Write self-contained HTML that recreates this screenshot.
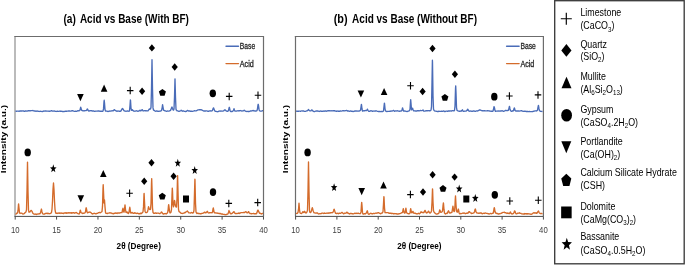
<!DOCTYPE html><html><head><meta charset="utf-8"><style>html,body{margin:0;padding:0;background:#fff;overflow:hidden;}svg{display:block;filter:blur(0.3px);}</style></head><body>
<svg width="685" height="265" viewBox="0 0 685 265">
<rect width="685" height="265" fill="#fff"/>
<path d="M15.0,216.4 V36.5" fill="none" stroke="#a4a4a4" stroke-width="1.5"/>
<path d="M14.3,36.5 H263.5 V216.4" fill="none" stroke="#6c6c6c" stroke-width="1.2"/>
<path d="M15.50,110.92 L16.00,111.13 L16.50,111.25 L17.00,111.10 L17.50,111.10 L18.00,111.07 L18.50,111.15 L19.00,111.29 L19.50,111.05 L20.00,110.82 L20.50,111.04 L21.00,111.02 L21.50,111.17 L22.00,110.91 L22.50,110.92 L23.00,111.06 L23.50,110.94 L24.00,111.19 L24.50,111.37 L25.00,111.08 L25.50,110.85 L26.00,110.92 L26.50,111.18 L27.00,111.10 L27.50,110.96 L28.00,110.95 L28.50,110.74 L29.00,110.68 L29.50,110.73 L30.00,110.80 L30.50,110.73 L31.00,110.67 L31.50,110.61 L32.00,110.69 L32.50,110.67 L33.00,110.51 L33.50,110.80 L34.00,110.89 L34.50,111.00 L35.00,110.86 L35.50,111.16 L36.00,111.33 L36.50,111.09 L37.00,111.01 L37.50,111.14 L38.00,111.24 L38.50,111.43 L39.00,111.32 L39.50,111.44 L40.00,111.46 L40.50,111.29 L41.00,111.29 L41.50,111.45 L42.00,111.55 L42.50,111.46 L43.00,111.43 L43.50,111.13 L44.00,111.00 L44.50,111.17 L45.00,111.11 L45.50,110.95 L46.00,111.00 L46.50,111.12 L47.00,111.20 L47.50,111.12 L48.00,111.09 L48.50,111.09 L49.00,111.23 L49.50,111.22 L50.00,111.14 L50.50,111.13 L51.00,110.89 L51.50,110.70 L52.00,110.88 L52.50,111.17 L53.00,111.20 L53.50,111.13 L54.00,110.96 L54.50,110.99 L55.00,111.25 L55.50,111.35 L56.00,111.32 L56.50,111.46 L57.00,111.25 L57.50,111.23 L58.00,111.43 L58.50,111.40 L59.00,111.32 L59.50,111.16 L60.00,111.17 L60.50,111.39 L61.00,111.08 L61.50,111.23 L62.00,111.36 L62.50,111.50 L63.00,111.54 L63.50,111.61 L64.00,111.51 L64.50,111.46 L65.00,111.35 L65.50,111.08 L66.00,111.27 L66.50,111.27 L67.00,111.08 L67.50,111.09 L68.00,111.08 L68.50,111.01 L69.00,110.95 L69.50,111.00 L70.00,111.08 L70.50,111.14 L71.00,111.11 L71.50,110.87 L72.00,110.78 L72.50,110.68 L73.00,110.81 L73.50,111.05 L74.00,111.20 L74.50,111.33 L75.00,111.44 L75.50,111.25 L76.00,111.39 L76.50,111.41 L77.00,111.14 L77.50,110.88 L78.00,110.67 L78.50,110.87 L79.00,110.77 L79.50,110.57 L80.00,110.12 L80.50,107.86 L80.70,107.25 L81.00,108.10 L81.50,110.22 L82.00,110.52 L82.50,110.54 L83.00,110.77 L83.50,110.81 L84.00,110.78 L84.50,110.83 L85.00,110.64 L85.50,110.66 L86.00,110.69 L86.50,110.47 L87.00,109.45 L87.40,108.96 L87.50,109.08 L88.00,110.22 L88.50,110.83 L89.00,111.08 L89.50,110.85 L90.00,110.66 L90.50,110.57 L91.00,110.78 L91.50,110.68 L92.00,110.86 L92.50,111.00 L93.00,111.04 L93.50,110.91 L94.00,111.18 L94.50,111.31 L95.00,111.28 L95.50,111.10 L96.00,111.17 L96.50,111.10 L97.00,111.14 L97.50,111.04 L98.00,111.11 L98.50,110.88 L99.00,110.82 L99.50,111.10 L100.00,111.28 L100.50,111.13 L101.00,111.29 L101.50,111.13 L102.00,111.30 L102.50,111.31 L103.00,111.01 L103.50,108.90 L104.00,101.49 L104.20,100.24 L104.50,102.98 L105.00,109.59 L105.50,111.06 L106.00,111.19 L106.50,111.02 L107.00,111.23 L107.50,111.44 L108.00,111.48 L108.50,111.40 L109.00,111.28 L109.50,111.16 L110.00,111.00 L110.50,111.10 L111.00,111.06 L111.50,110.91 L112.00,110.74 L112.50,110.88 L113.00,110.77 L113.50,110.55 L114.00,109.76 L114.40,109.59 L114.50,109.82 L115.00,110.25 L115.50,110.68 L116.00,110.77 L116.50,111.09 L117.00,111.23 L117.50,111.12 L118.00,110.96 L118.50,111.06 L119.00,111.22 L119.50,111.39 L120.00,111.21 L120.50,111.23 L121.00,110.87 L121.50,109.94 L122.00,109.07 L122.40,108.45 L122.50,108.54 L123.00,109.03 L123.50,109.90 L124.00,110.79 L124.50,110.88 L125.00,111.09 L125.50,111.14 L126.00,111.30 L126.50,111.18 L127.00,111.07 L127.50,110.95 L128.00,111.14 L128.50,111.13 L129.00,111.25 L129.50,110.90 L130.00,105.58 L130.40,99.88 L130.50,100.17 L131.00,108.18 L131.50,110.26 L132.00,110.33 L132.50,109.84 L132.60,109.98 L133.00,110.32 L133.50,110.99 L134.00,111.25 L134.50,111.17 L135.00,111.19 L135.50,111.03 L136.00,110.83 L136.50,110.76 L137.00,111.02 L137.50,111.06 L138.00,111.26 L138.50,111.19 L139.00,110.95 L139.50,110.60 L139.90,110.38 L140.00,110.11 L140.50,110.76 L141.00,110.79 L141.50,110.30 L142.00,109.88 L142.10,109.63 L142.50,109.97 L143.00,110.87 L143.50,110.95 L144.00,110.78 L144.50,110.67 L145.00,110.61 L145.50,110.80 L146.00,110.63 L146.50,110.89 L147.00,110.80 L147.50,110.93 L148.00,110.81 L148.50,110.11 L149.00,109.35 L149.40,109.08 L149.50,108.87 L150.00,109.20 L150.50,109.18 L151.00,107.22 L151.50,88.89 L152.00,59.78 L152.50,89.01 L153.00,107.88 L153.50,110.01 L154.00,110.21 L154.50,110.66 L155.00,111.01 L155.50,111.27 L156.00,111.05 L156.50,110.91 L157.00,111.00 L157.50,111.25 L158.00,111.23 L158.50,111.29 L159.00,111.32 L159.50,111.14 L160.00,111.13 L160.50,110.99 L161.00,110.83 L161.50,110.48 L162.00,108.80 L162.50,105.01 L162.60,104.74 L163.00,107.20 L163.50,109.91 L163.80,110.39 L164.00,110.38 L164.50,110.59 L165.00,110.80 L165.50,110.85 L166.00,111.09 L166.50,111.28 L167.00,111.13 L167.50,111.03 L168.00,111.05 L168.50,111.08 L169.00,111.10 L169.50,110.93 L170.00,110.65 L170.50,110.36 L171.00,109.40 L171.50,107.96 L171.90,107.09 L172.00,107.02 L172.50,108.46 L173.00,109.65 L173.50,110.15 L174.00,108.93 L174.50,97.32 L175.00,78.86 L175.50,97.18 L176.00,109.21 L176.50,110.37 L177.00,110.86 L177.50,110.79 L178.00,111.00 L178.50,111.27 L179.00,111.39 L179.50,111.24 L180.00,110.98 L180.50,110.81 L181.00,110.50 L181.20,110.26 L181.50,110.65 L182.00,110.91 L182.50,111.25 L183.00,110.99 L183.50,110.92 L184.00,111.15 L184.50,111.29 L185.00,111.44 L185.50,111.52 L186.00,111.48 L186.50,111.29 L187.00,110.75 L187.40,110.56 L187.50,110.36 L188.00,110.70 L188.50,111.03 L189.00,111.01 L189.50,110.83 L190.00,111.12 L190.50,111.26 L191.00,111.25 L191.50,111.24 L192.00,111.38 L192.50,111.29 L193.00,111.19 L193.50,111.09 L194.00,110.96 L194.50,110.73 L195.00,110.85 L195.50,110.82 L196.00,110.85 L196.50,110.58 L197.00,110.47 L197.50,110.23 L198.00,109.97 L198.50,109.79 L199.00,109.90 L199.50,109.78 L200.00,109.73 L200.10,109.84 L200.50,109.76 L201.00,109.67 L201.50,109.92 L202.00,110.16 L202.50,110.46 L203.00,110.60 L203.50,110.83 L204.00,111.03 L204.50,110.94 L205.00,110.98 L205.50,111.00 L206.00,110.88 L206.50,110.88 L207.00,110.95 L207.50,111.18 L208.00,111.37 L208.50,111.19 L209.00,111.24 L209.50,110.98 L210.00,110.78 L210.50,110.83 L211.00,111.05 L211.50,110.84 L212.00,110.86 L212.50,110.40 L213.00,108.80 L213.50,107.85 L214.00,109.03 L214.50,110.38 L215.00,111.09 L215.50,111.31 L216.00,111.33 L216.50,111.47 L217.00,111.59 L217.50,111.72 L218.00,111.63 L218.50,111.36 L219.00,111.18 L219.50,111.02 L220.00,111.07 L220.50,111.20 L221.00,110.95 L221.50,111.06 L222.00,111.17 L222.50,111.06 L223.00,111.05 L223.50,110.78 L224.00,110.62 L224.50,109.88 L225.00,109.85 L225.50,110.31 L226.00,110.85 L226.50,110.98 L227.00,111.26 L227.50,111.44 L228.00,111.10 L228.50,110.55 L229.00,108.25 L229.30,107.29 L229.50,107.78 L230.00,110.24 L230.50,111.35 L231.00,111.61 L231.50,111.45 L232.00,111.53 L232.50,111.38 L233.00,110.99 L233.50,109.95 L234.00,108.62 L234.50,110.00 L235.00,111.16 L235.50,111.07 L236.00,111.14 L236.50,111.09 L237.00,110.90 L237.50,110.84 L238.00,110.76 L238.50,110.95 L239.00,110.73 L239.50,110.65 L240.00,110.71 L240.50,110.54 L241.00,110.72 L241.50,110.84 L242.00,111.06 L242.50,110.91 L243.00,110.81 L243.50,110.74 L244.00,110.35 L244.30,110.34 L244.50,110.30 L245.00,110.75 L245.50,111.10 L246.00,111.28 L246.50,111.48 L247.00,111.42 L247.50,111.35 L248.00,111.48 L248.50,111.53 L249.00,111.48 L249.50,111.34 L250.00,111.17 L250.50,110.95 L251.00,111.10 L251.50,110.83 L252.00,110.81 L252.50,110.55 L253.00,110.52 L253.30,110.54 L253.50,110.73 L254.00,110.68 L254.50,110.92 L255.00,111.10 L255.50,111.04 L256.00,111.03 L256.50,110.91 L257.00,110.65 L257.50,108.61 L258.00,104.88 L258.20,104.28 L258.50,105.51 L259.00,109.19 L259.50,110.71 L260.00,111.01 L260.50,111.05 L261.00,111.14 L261.50,111.07 L262.00,110.93 L262.50,110.72 L263.00,110.68" fill="none" stroke="#4A6CB8" stroke-width="1.35" stroke-linejoin="round"/>
<path d="M15.50,213.75 L16.00,214.05 L16.50,213.48 L17.00,213.01 L17.50,213.09 L18.00,210.73 L18.50,204.45 L18.60,203.85 L19.00,208.02 L19.50,212.76 L20.00,213.45 L20.50,213.17 L21.00,213.15 L21.50,213.09 L22.00,213.33 L22.50,213.76 L23.00,214.05 L23.50,213.91 L24.00,213.69 L24.50,213.33 L25.00,212.78 L25.50,212.24 L26.00,211.96 L26.50,209.71 L27.00,190.80 L27.50,162.08 L28.00,191.31 L28.50,210.28 L29.00,212.20 L29.50,212.09 L30.00,211.88 L30.50,211.03 L31.00,210.34 L31.40,210.61 L31.50,210.82 L32.00,211.21 L32.50,212.55 L33.00,213.37 L33.50,213.74 L34.00,214.07 L34.50,214.17 L35.00,214.27 L35.50,213.95 L36.00,214.27 L36.50,214.50 L37.00,213.96 L37.50,214.06 L38.00,214.10 L38.50,213.90 L39.00,213.80 L39.50,213.65 L40.00,213.81 L40.50,212.82 L41.00,210.64 L41.40,209.06 L41.50,209.41 L42.00,211.91 L42.50,213.47 L43.00,213.83 L43.50,214.15 L44.00,214.20 L44.50,214.01 L45.00,213.62 L45.50,213.40 L46.00,213.55 L46.50,213.19 L47.00,213.57 L47.50,213.29 L48.00,213.63 L48.50,213.35 L49.00,213.70 L49.50,213.73 L50.00,213.53 L50.50,213.33 L51.00,213.15 L51.50,212.36 L52.00,209.24 L52.50,201.26 L53.00,189.36 L53.50,182.93 L54.00,189.81 L54.50,201.29 L55.00,209.27 L55.50,212.30 L56.00,213.36 L56.50,213.19 L57.00,213.48 L57.50,213.07 L58.00,213.27 L58.50,213.09 L59.00,212.90 L59.50,213.33 L60.00,212.98 L60.50,213.08 L61.00,213.45 L61.50,213.20 L62.00,212.98 L62.50,213.40 L63.00,213.32 L63.50,213.53 L64.00,213.07 L64.50,213.01 L65.00,212.79 L65.50,213.06 L66.00,212.75 L66.50,213.28 L67.00,212.87 L67.50,213.18 L68.00,212.79 L68.50,212.69 L69.00,213.11 L69.50,212.85 L70.00,212.67 L70.50,212.99 L71.00,212.96 L71.50,212.63 L72.00,213.22 L72.50,212.94 L73.00,212.61 L73.50,212.62 L74.00,212.88 L74.50,213.20 L75.00,212.88 L75.50,212.83 L76.00,212.52 L76.50,212.64 L77.00,213.02 L77.50,213.30 L78.00,213.66 L78.50,213.81 L79.00,213.98 L79.50,213.47 L80.00,211.28 L80.30,210.12 L80.50,210.60 L81.00,212.51 L81.50,212.93 L82.00,213.04 L82.50,213.45 L83.00,213.09 L83.50,213.22 L84.00,213.13 L84.50,213.15 L85.00,212.70 L85.50,211.92 L86.00,208.26 L86.20,207.77 L86.50,208.98 L87.00,211.80 L87.50,212.84 L88.00,212.69 L88.50,212.44 L89.00,212.22 L89.50,212.15 L90.00,212.03 L90.50,212.42 L91.00,212.62 L91.50,213.21 L92.00,213.63 L92.50,214.02 L93.00,213.65 L93.50,213.54 L94.00,213.28 L94.50,213.38 L95.00,213.49 L95.50,213.73 L96.00,213.84 L96.50,213.52 L97.00,213.41 L97.50,213.42 L98.00,212.95 L98.50,212.60 L99.00,212.64 L99.50,212.40 L100.00,212.75 L100.50,212.57 L101.00,212.25 L101.50,211.98 L102.00,211.43 L102.50,206.43 L103.00,188.43 L103.20,184.69 L103.50,191.52 L104.00,203.07 L104.50,199.97 L105.00,206.86 L105.50,212.40 L106.00,213.44 L106.50,213.45 L107.00,213.47 L107.50,213.54 L108.00,213.11 L108.50,213.09 L109.00,213.17 L109.50,212.93 L110.00,212.65 L110.50,213.07 L111.00,213.01 L111.50,213.10 L112.00,213.53 L112.50,213.60 L113.00,213.36 L113.50,213.80 L114.00,213.60 L114.50,213.12 L115.00,213.34 L115.50,212.98 L116.00,212.89 L116.50,213.29 L117.00,213.46 L117.50,213.00 L118.00,213.03 L118.50,213.01 L119.00,213.06 L119.50,212.85 L120.00,213.02 L120.50,212.69 L121.00,212.59 L121.50,212.55 L122.00,212.57 L122.50,209.83 L122.90,208.43 L123.00,208.32 L123.50,211.19 L124.00,212.26 L124.50,209.39 L125.00,204.90 L125.50,209.62 L126.00,212.41 L126.50,212.48 L127.00,212.00 L127.40,212.18 L127.50,212.42 L128.00,213.35 L128.50,213.54 L129.00,212.33 L129.50,208.77 L129.80,207.28 L130.00,208.28 L130.50,212.35 L131.00,213.19 L131.50,212.74 L132.00,212.43 L132.50,212.77 L133.00,213.27 L133.50,213.27 L134.00,213.41 L134.50,212.84 L134.90,212.69 L135.00,212.84 L135.50,213.20 L136.00,213.41 L136.50,213.49 L137.00,213.26 L137.50,213.21 L138.00,213.39 L138.50,213.75 L139.00,213.74 L139.50,213.93 L140.00,213.43 L140.50,213.25 L141.00,213.68 L141.50,213.24 L142.00,213.09 L142.50,212.58 L143.00,211.75 L143.50,206.88 L144.00,194.01 L144.10,193.35 L144.50,201.55 L145.00,211.15 L145.50,212.31 L146.00,212.61 L146.50,212.68 L147.00,212.35 L147.50,211.82 L148.00,209.68 L148.50,206.79 L148.60,207.00 L149.00,208.22 L149.50,209.35 L150.00,209.49 L150.50,209.32 L151.00,203.64 L151.50,182.92 L151.70,178.60 L152.00,188.10 L152.50,207.85 L153.00,212.40 L153.50,213.22 L154.00,213.46 L154.50,213.20 L155.00,213.21 L155.50,212.83 L156.00,213.02 L156.50,213.43 L157.00,213.12 L157.50,213.16 L158.00,213.17 L158.50,213.10 L159.00,213.32 L159.50,213.67 L160.00,213.63 L160.50,213.08 L161.00,212.68 L161.50,211.94 L162.00,212.51 L162.50,213.26 L163.00,213.80 L163.50,214.10 L164.00,213.70 L164.50,213.71 L165.00,213.52 L165.50,213.60 L166.00,213.92 L166.50,213.85 L167.00,213.20 L167.50,212.86 L168.00,210.95 L168.50,205.67 L168.70,204.67 L169.00,206.85 L169.50,211.35 L170.00,212.93 L170.50,212.85 L171.00,212.20 L171.50,209.31 L172.00,195.39 L172.30,188.06 L172.50,190.89 L173.00,204.70 L173.50,206.90 L174.00,204.28 L174.50,200.37 L174.80,201.53 L175.00,203.59 L175.50,205.81 L176.00,206.88 L176.50,207.03 L177.00,198.68 L177.50,176.67 L177.60,175.57 L178.00,190.95 L178.50,209.09 L179.00,211.58 L179.50,211.79 L180.00,212.21 L180.50,212.80 L181.00,213.07 L181.50,213.36 L182.00,213.34 L182.50,213.48 L183.00,213.29 L183.50,213.07 L184.00,213.11 L184.50,212.69 L185.00,212.34 L185.50,212.52 L186.00,211.87 L186.50,211.54 L187.00,211.17 L187.40,210.85 L187.50,211.03 L188.00,211.72 L188.50,212.71 L189.00,212.86 L189.50,212.86 L190.00,212.93 L190.50,212.99 L191.00,212.85 L191.50,212.47 L192.00,212.63 L192.50,213.10 L193.00,212.85 L193.50,212.60 L194.00,210.09 L194.50,193.38 L194.90,179.09 L195.00,180.13 L195.50,202.95 L196.00,212.01 L196.50,212.95 L197.00,213.51 L197.50,213.14 L198.00,213.50 L198.50,213.30 L199.00,213.45 L199.50,213.70 L200.00,213.77 L200.50,213.59 L201.00,213.84 L201.50,213.37 L202.00,213.47 L202.50,213.31 L203.00,213.18 L203.50,213.06 L204.00,212.62 L204.40,212.36 L204.50,212.09 L205.00,212.28 L205.50,212.81 L206.00,212.74 L206.50,212.17 L207.00,211.89 L207.30,211.31 L207.50,211.76 L208.00,212.41 L208.50,212.91 L209.00,212.98 L209.50,212.69 L210.00,212.79 L210.50,212.59 L211.00,212.67 L211.50,212.58 L212.00,212.91 L212.50,212.21 L213.00,209.01 L213.30,208.02 L213.50,208.89 L214.00,211.80 L214.50,212.90 L215.00,212.94 L215.50,212.77 L216.00,213.06 L216.50,213.02 L217.00,212.96 L217.50,213.31 L218.00,213.09 L218.50,213.42 L219.00,213.54 L219.50,213.42 L220.00,213.70 L220.50,213.50 L221.00,213.81 L221.50,214.11 L222.00,213.97 L222.50,214.02 L223.00,214.30 L223.50,214.33 L224.00,214.37 L224.50,214.50 L225.00,214.67 L225.50,214.64 L226.00,214.81 L226.50,214.33 L227.00,214.24 L227.50,214.19 L228.00,213.76 L228.50,212.58 L229.00,210.39 L229.10,210.71 L229.50,211.62 L230.00,213.11 L230.50,213.76 L231.00,213.43 L231.50,213.83 L232.00,213.40 L232.50,212.94 L233.00,212.72 L233.50,212.01 L234.00,211.63 L234.10,211.94 L234.50,212.60 L235.00,213.32 L235.50,213.62 L236.00,213.37 L236.50,213.68 L237.00,213.53 L237.50,213.31 L238.00,213.45 L238.50,213.12 L239.00,213.01 L239.50,213.47 L240.00,213.09 L240.50,212.82 L241.00,212.67 L241.50,212.59 L242.00,212.67 L242.50,212.59 L243.00,212.60 L243.50,212.52 L244.00,212.44 L244.50,212.65 L245.00,212.26 L245.50,211.66 L245.70,211.93 L246.00,211.79 L246.50,212.20 L247.00,212.94 L247.50,212.85 L248.00,212.62 L248.50,211.59 L248.60,211.65 L249.00,212.42 L249.50,212.98 L250.00,213.51 L250.50,213.61 L251.00,213.47 L251.50,213.90 L252.00,213.70 L252.50,213.61 L253.00,213.67 L253.50,213.44 L254.00,213.72 L254.50,213.73 L255.00,213.72 L255.50,213.64 L256.00,213.88 L256.50,213.69 L257.00,212.56 L257.50,210.73 L257.80,210.10 L258.00,210.18 L258.50,211.11 L259.00,212.14 L259.50,213.28 L260.00,213.08 L260.50,213.56 L261.00,213.69 L261.50,214.01 L262.00,213.51 L262.50,213.31 L263.00,213.60" fill="none" stroke="#D46B2B" stroke-width="1.35" stroke-linejoin="round"/>
<path d="M14.5,216.4 H263.5" stroke="#4a4a4a" stroke-width="1.0"/>
<path d="M15.20,216.4 V219.6 M56.58,216.4 V219.6 M97.96,216.4 V219.6 M139.34,216.4 V219.6 M180.72,216.4 V219.6 M222.10,216.4 V219.6 M263.48,216.4 V219.6 " stroke="#4a4a4a" stroke-width="1.0"/>
<text transform="translate(15.20,233.20) scale(0.8592,1)" font-size="9.00" fill="#404040" text-anchor="middle" font-family="Liberation Sans, sans-serif">10</text>
<text transform="translate(56.58,233.20) scale(0.8592,1)" font-size="9.00" fill="#404040" text-anchor="middle" font-family="Liberation Sans, sans-serif">15</text>
<text transform="translate(97.96,233.20) scale(0.8592,1)" font-size="9.00" fill="#404040" text-anchor="middle" font-family="Liberation Sans, sans-serif">20</text>
<text transform="translate(139.34,233.20) scale(0.8592,1)" font-size="9.00" fill="#404040" text-anchor="middle" font-family="Liberation Sans, sans-serif">25</text>
<text transform="translate(180.72,233.20) scale(0.8592,1)" font-size="9.00" fill="#404040" text-anchor="middle" font-family="Liberation Sans, sans-serif">30</text>
<text transform="translate(222.10,233.20) scale(0.8592,1)" font-size="9.00" fill="#404040" text-anchor="middle" font-family="Liberation Sans, sans-serif">35</text>
<text transform="translate(263.48,233.20) scale(0.8592,1)" font-size="9.00" fill="#404040" text-anchor="middle" font-family="Liberation Sans, sans-serif">40</text>
<text transform="translate(116.60,248.80) scale(0.8867,1)" font-size="9.20" font-weight="bold" fill="#000" text-anchor="start" font-family="Liberation Sans, sans-serif">2θ (Degree)</text>
<text transform="translate(63.40,22.70) scale(0.7407,1)" font-size="13.70" font-weight="bold" fill="#000" text-anchor="start" font-family="Liberation Sans, sans-serif">(a)</text>
<text transform="translate(79.90,22.70) scale(0.7288,1)" font-size="13.70" font-weight="bold" fill="#000" text-anchor="start" font-family="Liberation Sans, sans-serif">Acid vs Base (With BF)</text>
<text transform="translate(5.90,139.00) rotate(-90) scale(1.3476,1)" font-size="7.50" font-weight="bold" fill="#000" text-anchor="middle" font-family="Liberation Sans, sans-serif">Intensity (a.u.)</text>
<path d="M226.0,46.2 H238.5" stroke="#4A6CB8" stroke-width="1.4" stroke-linecap="round"/>
<path d="M226.0,63.6 H238.5" stroke="#D46B2B" stroke-width="1.4" stroke-linecap="round"/>
<text transform="translate(239.80,49.40) scale(0.7857,1)" font-size="8.60" fill="#262626" stroke="#262626" stroke-width="0.30" text-anchor="start" font-family="Liberation Sans, sans-serif">Base</text>
<text transform="translate(239.80,66.70) scale(0.8368,1)" font-size="8.60" fill="#262626" stroke="#262626" stroke-width="0.30" text-anchor="start" font-family="Liberation Sans, sans-serif">Acid</text>
<path d="M295.5,216.4 V36.5" fill="none" stroke="#6c6c6c" stroke-width="1.2"/>
<path d="M294.8,36.5 H543.4 V216.4" fill="none" stroke="#6c6c6c" stroke-width="1.2"/>
<path d="M296.00,111.08 L296.50,111.11 L297.00,111.32 L297.50,111.26 L298.00,111.23 L298.50,111.25 L299.00,111.06 L299.50,111.07 L300.00,111.14 L300.50,111.28 L301.00,111.04 L301.50,110.95 L302.00,110.78 L302.50,111.00 L303.00,111.11 L303.50,110.88 L304.00,111.16 L304.50,111.38 L305.00,111.40 L305.50,111.39 L306.00,111.16 L306.50,110.90 L307.00,110.94 L307.50,110.64 L308.00,110.05 L308.40,109.64 L308.50,109.52 L309.00,110.21 L309.50,110.59 L310.00,110.88 L310.50,110.90 L311.00,110.76 L311.50,110.13 L311.90,109.86 L312.00,109.85 L312.50,110.36 L313.00,111.11 L313.50,111.45 L314.00,111.56 L314.50,111.57 L315.00,111.39 L315.50,111.20 L316.00,111.07 L316.50,110.86 L317.00,111.04 L317.50,111.00 L318.00,111.20 L318.50,111.12 L319.00,111.34 L319.50,111.47 L320.00,111.14 L320.50,110.99 L321.00,111.22 L321.50,111.18 L322.00,111.40 L322.50,111.29 L323.00,111.04 L323.50,111.12 L324.00,111.25 L324.50,111.11 L325.00,110.90 L325.50,110.85 L326.00,111.14 L326.50,111.26 L327.00,111.03 L327.50,110.92 L328.00,110.76 L328.50,110.60 L329.00,110.85 L329.50,110.74 L330.00,110.84 L330.50,110.87 L331.00,110.76 L331.50,110.94 L332.00,110.79 L332.50,110.92 L333.00,110.77 L333.50,110.79 L334.00,110.71 L334.50,110.67 L335.00,110.99 L335.50,111.17 L336.00,111.05 L336.50,111.26 L337.00,111.08 L337.50,111.03 L338.00,111.22 L338.50,111.27 L339.00,111.03 L339.50,111.29 L340.00,111.11 L340.50,110.98 L341.00,111.14 L341.50,111.05 L342.00,110.95 L342.50,110.77 L343.00,110.63 L343.50,110.76 L344.00,110.69 L344.50,110.81 L345.00,110.74 L345.50,110.61 L346.00,110.61 L346.50,110.42 L347.00,110.62 L347.50,111.08 L348.00,111.04 L348.50,110.92 L349.00,111.16 L349.50,111.31 L350.00,111.14 L350.50,110.98 L351.00,111.12 L351.50,111.34 L352.00,111.14 L352.50,111.35 L353.00,111.49 L353.50,111.46 L354.00,111.35 L354.50,111.10 L355.00,110.87 L355.50,111.14 L356.00,111.00 L356.50,111.12 L357.00,110.99 L357.50,111.16 L358.00,111.19 L358.50,111.05 L359.00,110.88 L359.50,111.00 L360.00,110.73 L360.50,110.17 L361.00,107.02 L361.40,104.39 L361.50,104.69 L362.00,108.98 L362.50,110.97 L363.00,110.97 L363.50,110.77 L364.00,110.73 L364.50,110.77 L365.00,110.62 L365.50,110.54 L366.00,110.57 L366.50,110.64 L367.00,110.06 L367.50,109.20 L367.60,109.44 L368.00,110.26 L368.50,111.06 L369.00,111.28 L369.50,111.30 L370.00,111.08 L370.50,110.85 L371.00,110.66 L371.50,110.95 L372.00,111.08 L372.50,111.31 L373.00,111.02 L373.50,111.10 L374.00,111.07 L374.50,111.16 L375.00,110.98 L375.50,111.15 L376.00,110.81 L376.40,110.82 L376.50,110.93 L377.00,111.15 L377.50,111.29 L378.00,111.39 L378.50,111.50 L379.00,111.64 L379.50,111.46 L380.00,111.47 L380.50,111.59 L381.00,111.67 L381.50,111.50 L382.00,111.54 L382.50,111.59 L383.00,111.43 L383.50,110.81 L384.00,106.64 L384.40,103.09 L384.50,103.39 L385.00,108.58 L385.50,110.84 L386.00,111.29 L386.50,111.46 L387.00,111.51 L387.50,111.38 L388.00,111.44 L388.50,111.41 L389.00,111.32 L389.50,111.44 L390.00,111.16 L390.50,111.27 L391.00,111.00 L391.50,111.06 L392.00,111.04 L392.50,110.82 L393.00,110.64 L393.50,110.38 L394.00,110.71 L394.50,111.22 L395.00,111.14 L395.50,110.89 L396.00,110.83 L396.50,110.97 L397.00,110.85 L397.50,110.73 L398.00,111.00 L398.50,111.10 L399.00,111.06 L399.50,111.26 L400.00,111.13 L400.50,111.19 L401.00,110.99 L401.50,110.87 L402.00,110.12 L402.50,108.01 L402.60,108.02 L403.00,109.36 L403.50,111.03 L404.00,111.13 L404.50,110.96 L405.00,110.99 L405.50,111.17 L406.00,111.33 L406.50,111.38 L407.00,111.53 L407.50,111.32 L408.00,111.08 L408.50,111.02 L409.00,110.86 L409.50,110.61 L410.00,109.22 L410.50,101.58 L410.70,99.71 L411.00,103.32 L411.50,109.84 L412.00,109.62 L412.50,108.09 L413.00,109.42 L413.50,110.49 L414.00,110.95 L414.50,110.77 L415.00,110.94 L415.50,111.01 L416.00,110.93 L416.50,111.11 L417.00,110.86 L417.50,110.72 L418.00,110.77 L418.50,110.59 L419.00,110.85 L419.50,110.76 L420.00,110.64 L420.50,110.50 L421.00,110.67 L421.50,110.69 L422.00,110.67 L422.50,110.27 L423.00,109.98 L423.50,110.65 L424.00,111.20 L424.50,111.13 L425.00,111.12 L425.50,110.94 L426.00,110.71 L426.50,110.76 L427.00,110.91 L427.50,110.76 L428.00,110.67 L428.50,110.63 L429.00,110.75 L429.50,110.73 L430.00,110.71 L430.50,110.65 L431.00,110.12 L431.50,106.68 L432.00,82.20 L432.40,60.26 L432.50,62.31 L433.00,95.88 L433.50,109.06 L434.00,110.38 L434.50,110.74 L435.00,111.08 L435.50,111.05 L436.00,111.10 L436.50,111.29 L437.00,111.40 L437.50,111.56 L438.00,111.45 L438.50,111.45 L439.00,111.22 L439.50,111.31 L440.00,111.42 L440.50,111.42 L441.00,111.45 L441.50,111.23 L442.00,111.36 L442.50,111.35 L443.00,111.08 L443.30,110.84 L443.50,110.94 L444.00,111.14 L444.50,111.51 L445.00,111.64 L445.50,111.45 L446.00,111.17 L446.50,111.12 L447.00,111.14 L447.50,111.26 L448.00,111.21 L448.50,110.95 L449.00,111.12 L449.50,110.89 L450.00,111.07 L450.50,110.90 L451.00,110.84 L451.50,111.01 L452.00,110.82 L452.50,110.66 L453.00,110.69 L453.50,110.79 L454.00,110.85 L454.50,110.48 L455.00,106.11 L455.50,89.16 L455.70,85.85 L456.00,92.58 L456.50,107.54 L457.00,110.48 L457.50,110.68 L458.00,110.93 L458.50,111.05 L459.00,111.08 L459.50,111.25 L460.00,111.25 L460.50,111.11 L461.00,111.02 L461.50,111.05 L462.00,110.48 L462.40,109.73 L462.50,109.92 L463.00,110.97 L463.50,111.36 L464.00,111.38 L464.50,111.17 L465.00,111.17 L465.50,111.14 L466.00,111.16 L466.50,110.77 L467.00,110.42 L467.50,109.37 L467.70,109.14 L468.00,109.61 L468.50,110.66 L469.00,111.09 L469.50,111.25 L470.00,111.01 L470.50,111.05 L471.00,111.01 L471.50,111.26 L472.00,111.43 L472.50,111.25 L473.00,111.20 L473.50,110.99 L474.00,110.97 L474.50,111.15 L475.00,111.33 L475.50,111.26 L476.00,111.12 L476.50,110.93 L477.00,110.95 L477.50,111.07 L478.00,110.69 L478.50,110.64 L479.00,110.18 L479.50,109.94 L479.70,109.84 L480.00,110.03 L480.50,110.12 L481.00,110.30 L481.50,110.60 L482.00,110.58 L482.50,110.85 L483.00,110.74 L483.50,110.83 L484.00,110.76 L484.50,110.68 L485.00,110.77 L485.50,110.81 L486.00,110.80 L486.50,110.81 L487.00,110.88 L487.50,110.75 L488.00,110.67 L488.50,110.82 L489.00,110.94 L489.50,110.98 L490.00,111.17 L490.50,111.20 L491.00,111.35 L491.50,111.15 L492.00,111.23 L492.50,111.30 L493.00,111.12 L493.50,109.29 L494.00,106.64 L494.10,106.71 L494.50,107.98 L495.00,110.59 L495.50,111.39 L496.00,111.21 L496.50,111.07 L497.00,111.19 L497.50,111.05 L498.00,110.86 L498.50,111.07 L499.00,111.04 L499.50,111.19 L500.00,110.98 L500.50,110.96 L501.00,111.07 L501.50,110.84 L502.00,110.73 L502.50,110.89 L503.00,111.13 L503.50,111.35 L504.00,111.09 L504.50,111.00 L505.00,110.79 L505.50,110.34 L505.60,110.39 L506.00,110.43 L506.50,110.65 L507.00,110.64 L507.50,110.49 L508.00,110.57 L508.50,110.21 L509.00,108.15 L509.40,106.45 L509.50,106.49 L510.00,108.97 L510.50,110.59 L511.00,111.07 L511.50,111.29 L512.00,111.05 L512.50,110.82 L513.00,111.03 L513.50,110.50 L514.00,108.78 L514.30,107.94 L514.50,108.27 L515.00,110.24 L515.50,110.93 L516.00,111.07 L516.50,110.85 L517.00,111.00 L517.50,111.19 L518.00,111.01 L518.50,111.01 L519.00,111.15 L519.50,111.09 L520.00,110.94 L520.50,110.80 L521.00,110.87 L521.50,110.67 L522.00,110.95 L522.50,111.13 L523.00,111.23 L523.50,111.38 L524.00,111.39 L524.50,111.28 L525.00,111.29 L525.50,111.26 L526.00,111.47 L526.50,111.54 L527.00,111.33 L527.50,111.49 L528.00,111.53 L528.50,111.58 L529.00,111.64 L529.50,111.49 L530.00,111.61 L530.50,111.69 L531.00,111.67 L531.50,111.69 L532.00,111.70 L532.50,111.53 L533.00,111.55 L533.50,111.24 L534.00,111.13 L534.50,111.10 L535.00,110.84 L535.50,110.80 L536.00,110.91 L536.50,110.96 L537.00,110.72 L537.50,110.14 L538.00,107.28 L538.40,105.34 L538.50,105.55 L539.00,108.66 L539.50,110.69 L540.00,111.00 L540.50,111.30 L541.00,111.34 L541.50,111.40 L542.00,111.47 L542.50,111.64" fill="none" stroke="#4A6CB8" stroke-width="1.35" stroke-linejoin="round"/>
<path d="M296.00,213.33 L296.50,213.46 L297.00,213.55 L297.50,213.12 L298.00,212.47 L298.50,209.45 L299.00,203.06 L299.50,209.76 L300.00,212.97 L300.50,213.30 L301.00,213.38 L301.50,213.50 L302.00,213.02 L302.50,212.39 L302.90,211.67 L303.00,212.15 L303.50,212.37 L304.00,212.57 L304.50,211.26 L304.60,211.45 L305.00,211.90 L305.50,212.64 L306.00,213.08 L306.50,212.48 L307.00,211.80 L307.50,210.13 L308.00,191.33 L308.50,161.92 L309.00,191.51 L309.50,210.73 L310.00,212.45 L310.50,212.66 L311.00,212.10 L311.50,210.62 L312.00,208.55 L312.30,207.68 L312.50,208.28 L313.00,210.17 L313.50,211.76 L314.00,212.78 L314.50,212.89 L315.00,212.93 L315.50,213.11 L316.00,213.14 L316.50,213.09 L317.00,212.72 L317.50,213.06 L318.00,213.54 L318.50,213.94 L319.00,213.98 L319.50,213.73 L320.00,213.54 L320.50,213.68 L321.00,213.77 L321.50,213.35 L322.00,213.12 L322.50,213.05 L323.00,213.13 L323.50,213.46 L324.00,213.44 L324.50,213.01 L325.00,213.37 L325.50,213.31 L326.00,213.34 L326.50,213.10 L327.00,213.09 L327.50,213.05 L328.00,213.36 L328.50,213.00 L329.00,213.12 L329.50,212.88 L330.00,213.15 L330.50,212.78 L331.00,212.69 L331.50,212.67 L332.00,212.90 L332.50,212.50 L333.00,212.22 L333.50,210.88 L334.00,209.30 L334.20,209.23 L334.50,210.22 L335.00,211.85 L335.50,213.30 L336.00,213.23 L336.50,213.68 L337.00,213.51 L337.50,213.21 L338.00,213.47 L338.50,213.82 L339.00,213.29 L339.50,213.10 L340.00,213.41 L340.50,213.26 L341.00,213.05 L341.50,212.68 L342.00,212.40 L342.50,212.71 L343.00,213.28 L343.50,213.74 L344.00,213.67 L344.50,213.18 L345.00,213.03 L345.50,213.25 L346.00,213.17 L346.50,212.63 L346.80,212.15 L347.00,212.24 L347.50,212.78 L348.00,213.33 L348.50,213.24 L349.00,213.69 L349.50,213.99 L350.00,213.56 L350.50,213.34 L351.00,213.69 L351.50,213.43 L352.00,213.82 L352.50,213.75 L353.00,213.85 L353.50,213.94 L354.00,213.57 L354.50,213.34 L355.00,213.13 L355.50,213.34 L356.00,213.52 L356.50,213.16 L357.00,213.55 L357.50,213.43 L358.00,213.18 L358.50,213.15 L359.00,213.60 L359.50,213.57 L360.00,213.57 L360.50,213.68 L361.00,211.89 L361.50,204.26 L361.70,202.41 L362.00,205.54 L362.50,212.66 L363.00,214.07 L363.50,214.09 L364.00,213.83 L364.50,213.63 L365.00,213.78 L365.50,213.74 L366.00,213.17 L366.50,212.86 L367.00,211.31 L367.30,210.73 L367.50,211.33 L368.00,213.55 L368.50,214.12 L369.00,214.30 L369.50,214.02 L370.00,213.53 L370.50,213.37 L371.00,213.21 L371.50,213.64 L372.00,213.76 L372.50,213.72 L373.00,213.76 L373.50,213.35 L374.00,213.39 L374.50,213.57 L375.00,213.44 L375.50,213.20 L376.00,213.15 L376.50,213.04 L377.00,213.27 L377.50,212.97 L378.00,212.68 L378.50,212.65 L379.00,212.96 L379.50,213.27 L380.00,213.42 L380.50,213.79 L381.00,213.55 L381.50,213.05 L382.00,213.02 L382.50,212.86 L383.00,211.45 L383.50,203.71 L383.90,196.59 L384.00,197.01 L384.50,207.81 L385.00,212.68 L385.50,212.68 L386.00,212.75 L386.50,212.70 L387.00,212.58 L387.50,212.68 L388.00,212.58 L388.50,213.12 L389.00,213.17 L389.50,213.39 L390.00,213.09 L390.50,213.12 L391.00,213.27 L391.50,213.60 L392.00,213.33 L392.50,213.31 L393.00,213.64 L393.50,213.89 L394.00,213.54 L394.50,213.55 L395.00,213.75 L395.50,213.58 L396.00,213.70 L396.50,213.78 L397.00,214.13 L397.50,214.03 L398.00,214.06 L398.50,213.79 L399.00,213.92 L399.50,213.65 L400.00,213.59 L400.50,213.42 L401.00,213.22 L401.50,212.91 L402.00,212.71 L402.50,212.59 L403.00,210.21 L403.30,208.63 L403.50,209.72 L404.00,212.25 L404.50,213.19 L405.00,213.09 L405.50,210.53 L405.90,208.10 L406.00,208.65 L406.50,212.41 L407.00,213.13 L407.50,213.36 L408.00,213.68 L408.50,213.71 L409.00,213.88 L409.50,213.64 L410.00,213.08 L410.50,209.51 L410.70,208.60 L411.00,210.07 L411.50,212.73 L412.00,212.90 L412.50,212.25 L412.80,211.37 L413.00,211.45 L413.50,212.53 L414.00,213.29 L414.50,213.34 L415.00,212.95 L415.50,213.34 L416.00,213.68 L416.50,213.91 L417.00,213.67 L417.50,213.82 L418.00,213.55 L418.50,213.18 L419.00,213.54 L419.50,213.76 L420.00,213.21 L420.50,212.83 L421.00,211.71 L421.50,212.16 L422.00,212.46 L422.50,212.48 L423.00,212.36 L423.50,212.71 L424.00,212.37 L424.50,211.31 L425.00,210.39 L425.50,211.18 L426.00,212.58 L426.50,213.01 L427.00,212.69 L427.50,212.70 L428.00,211.91 L428.50,211.11 L429.00,211.88 L429.50,212.79 L430.00,213.12 L430.50,212.77 L431.00,212.34 L431.50,210.88 L432.00,202.18 L432.50,188.84 L432.60,189.56 L433.00,201.82 L433.50,210.73 L434.00,211.86 L434.50,212.79 L435.00,213.08 L435.50,213.57 L436.00,213.77 L436.50,214.12 L437.00,214.14 L437.50,213.90 L438.00,213.68 L438.50,213.59 L439.00,212.88 L439.50,210.79 L439.70,209.88 L440.00,210.28 L440.50,212.10 L441.00,212.39 L441.50,212.17 L442.00,211.82 L442.50,210.85 L443.00,205.95 L443.40,202.90 L443.50,203.47 L444.00,209.68 L444.50,213.11 L445.00,213.67 L445.50,214.04 L446.00,213.48 L446.50,213.19 L447.00,213.54 L447.50,213.10 L448.00,211.58 L448.50,210.78 L449.00,211.71 L449.50,212.93 L450.00,213.08 L450.50,212.88 L451.00,212.52 L451.50,212.59 L452.00,212.21 L452.50,208.90 L452.90,206.25 L453.00,206.65 L453.50,210.15 L454.00,211.59 L454.50,211.23 L455.00,205.27 L455.20,200.65 L455.50,195.86 L456.00,204.75 L456.50,210.88 L457.00,212.08 L457.50,212.13 L458.00,210.15 L458.30,209.06 L458.50,209.44 L459.00,212.45 L459.50,213.84 L460.00,213.83 L460.50,213.48 L461.00,213.58 L461.50,213.57 L462.00,213.41 L462.50,213.16 L463.00,213.10 L463.50,213.25 L464.00,212.94 L464.50,213.06 L465.00,213.53 L465.50,213.71 L466.00,213.42 L466.50,213.33 L467.00,212.97 L467.50,213.23 L468.00,213.21 L468.50,212.39 L469.00,211.66 L469.30,211.56 L469.50,211.74 L470.00,212.41 L470.50,212.86 L471.00,212.98 L471.50,213.53 L472.00,213.34 L472.50,213.34 L473.00,213.29 L473.50,212.98 L474.00,212.78 L474.50,211.68 L475.00,209.64 L475.30,209.00 L475.50,209.29 L476.00,211.79 L476.50,212.79 L477.00,212.93 L477.50,213.19 L478.00,213.15 L478.50,213.21 L479.00,213.38 L479.50,213.00 L480.00,213.23 L480.50,212.91 L481.00,212.78 L481.50,213.18 L482.00,213.66 L482.50,213.76 L483.00,213.39 L483.50,213.34 L484.00,213.15 L484.50,213.51 L485.00,213.24 L485.50,213.00 L486.00,213.20 L486.50,213.36 L487.00,213.45 L487.50,213.41 L488.00,213.82 L488.50,213.69 L489.00,214.02 L489.50,213.79 L490.00,213.68 L490.50,213.48 L491.00,213.65 L491.50,213.80 L492.00,213.46 L492.50,213.41 L493.00,213.41 L493.50,212.10 L494.00,208.75 L494.30,207.58 L494.50,208.27 L495.00,211.58 L495.50,213.04 L496.00,212.87 L496.50,213.36 L497.00,213.63 L497.50,213.49 L498.00,213.89 L498.50,214.16 L499.00,213.69 L499.50,213.93 L500.00,213.75 L500.50,213.52 L501.00,213.27 L501.50,213.22 L502.00,212.85 L502.50,212.55 L503.00,212.38 L503.50,212.41 L504.00,212.29 L504.50,212.17 L505.00,212.71 L505.50,212.74 L506.00,212.86 L506.50,213.05 L507.00,213.51 L507.50,213.16 L508.00,212.95 L508.50,213.35 L509.00,213.64 L509.50,213.58 L510.00,212.63 L510.30,212.13 L510.50,211.91 L511.00,213.11 L511.50,213.76 L512.00,213.80 L512.50,213.97 L513.00,213.59 L513.50,213.32 L514.00,212.62 L514.50,210.87 L514.60,210.89 L515.00,211.31 L515.50,212.98 L516.00,213.73 L516.50,213.85 L517.00,213.71 L517.50,213.22 L518.00,213.25 L518.50,213.15 L519.00,213.11 L519.50,212.79 L520.00,213.29 L520.50,213.33 L521.00,213.40 L521.50,213.71 L522.00,214.00 L522.50,213.92 L523.00,213.86 L523.50,214.08 L524.00,213.83 L524.50,214.10 L525.00,213.53 L525.50,213.77 L526.00,213.72 L526.50,213.77 L527.00,214.13 L527.50,213.73 L528.00,213.58 L528.50,213.81 L529.00,213.95 L529.50,213.86 L530.00,214.02 L530.50,214.05 L531.00,214.25 L531.50,214.21 L532.00,213.93 L532.50,213.63 L533.00,213.20 L533.50,212.90 L534.00,212.58 L534.50,213.17 L535.00,212.88 L535.50,213.07 L536.00,212.79 L536.50,213.29 L537.00,213.21 L537.50,212.40 L538.00,211.59 L538.50,211.07 L539.00,212.25 L539.50,213.03 L540.00,213.39 L540.50,213.62 L541.00,213.39 L541.50,213.46 L542.00,213.63 L542.50,213.81" fill="none" stroke="#D46B2B" stroke-width="1.35" stroke-linejoin="round"/>
<path d="M295.0,216.4 H543.4" stroke="#4a4a4a" stroke-width="1.0"/>
<path d="M295.60,216.4 V219.6 M336.90,216.4 V219.6 M378.20,216.4 V219.6 M419.50,216.4 V219.6 M460.80,216.4 V219.6 M502.10,216.4 V219.6 M543.40,216.4 V219.6 " stroke="#4a4a4a" stroke-width="1.0"/>
<text transform="translate(295.60,233.20) scale(0.8592,1)" font-size="9.00" fill="#404040" text-anchor="middle" font-family="Liberation Sans, sans-serif">10</text>
<text transform="translate(336.90,233.20) scale(0.8592,1)" font-size="9.00" fill="#404040" text-anchor="middle" font-family="Liberation Sans, sans-serif">15</text>
<text transform="translate(378.20,233.20) scale(0.8592,1)" font-size="9.00" fill="#404040" text-anchor="middle" font-family="Liberation Sans, sans-serif">20</text>
<text transform="translate(419.50,233.20) scale(0.8592,1)" font-size="9.00" fill="#404040" text-anchor="middle" font-family="Liberation Sans, sans-serif">25</text>
<text transform="translate(460.80,233.20) scale(0.8592,1)" font-size="9.00" fill="#404040" text-anchor="middle" font-family="Liberation Sans, sans-serif">30</text>
<text transform="translate(502.10,233.20) scale(0.8592,1)" font-size="9.00" fill="#404040" text-anchor="middle" font-family="Liberation Sans, sans-serif">35</text>
<text transform="translate(543.40,233.20) scale(0.8592,1)" font-size="9.00" fill="#404040" text-anchor="middle" font-family="Liberation Sans, sans-serif">40</text>
<text transform="translate(397.20,248.80) scale(0.8867,1)" font-size="9.20" font-weight="bold" fill="#000" text-anchor="start" font-family="Liberation Sans, sans-serif">2θ (Degree)</text>
<text transform="translate(333.70,22.70) scale(0.7947,1)" font-size="13.70" font-weight="bold" fill="#000" text-anchor="start" font-family="Liberation Sans, sans-serif">(b)</text>
<text transform="translate(352.10,22.70) scale(0.7305,1)" font-size="13.70" font-weight="bold" fill="#000" text-anchor="start" font-family="Liberation Sans, sans-serif">Acid vs Base (Without BF)</text>
<text transform="translate(287.50,139.00) rotate(-90) scale(1.3476,1)" font-size="7.50" font-weight="bold" fill="#000" text-anchor="middle" font-family="Liberation Sans, sans-serif">Intensity (a.u.)</text>
<path d="M506.6,46.2 H519.1" stroke="#4A6CB8" stroke-width="1.4" stroke-linecap="round"/>
<path d="M506.6,63.6 H519.1" stroke="#D46B2B" stroke-width="1.4" stroke-linecap="round"/>
<text transform="translate(520.40,49.40) scale(0.7857,1)" font-size="8.60" fill="#262626" stroke="#262626" stroke-width="0.30" text-anchor="start" font-family="Liberation Sans, sans-serif">Base</text>
<text transform="translate(520.40,66.70) scale(0.8368,1)" font-size="8.60" fill="#262626" stroke="#262626" stroke-width="0.30" text-anchor="start" font-family="Liberation Sans, sans-serif">Acid</text>
<g fill="#000">
<path d="M77.10,94.10 L83.70,94.10 L80.40,101.30 Z"/>
<path d="M104.10,84.60 L107.40,91.80 L100.80,91.80 Z"/>
<path d="M126.95,90.60 H133.45 M130.20,86.85 V94.35" fill="none" stroke="#000" stroke-width="1.10"/>
<path d="M142.10,87.60 L145.20,91.30 L142.10,95.00 L139.00,91.30 Z"/>
<path d="M151.90,44.20 L155.00,47.90 L151.90,51.60 L148.80,47.90 Z"/>
<polygon points="162.40,89.00 165.92,91.56 164.57,95.69 160.23,95.69 158.88,91.56"/>
<path d="M174.70,63.30 L177.80,67.00 L174.70,70.70 L171.60,67.00 Z"/>
<ellipse cx="212.80" cy="93.30" rx="3.20" ry="3.90"/>
<path d="M225.95,96.40 H232.45 M229.20,92.65 V100.15" fill="none" stroke="#000" stroke-width="1.10"/>
<path d="M254.75,95.30 H261.25 M258.00,91.55 V99.05" fill="none" stroke="#000" stroke-width="1.10"/>
<ellipse cx="27.70" cy="152.40" rx="3.20" ry="3.90"/>
<polygon points="53.30,164.35 54.15,167.25 56.58,167.39 54.68,169.32 55.33,172.31 53.30,170.60 51.27,172.31 51.92,169.32 50.02,167.39 52.45,167.25"/>
<path d="M77.50,195.20 L84.10,195.20 L80.80,202.40 Z"/>
<path d="M103.30,169.90 L106.60,177.10 L100.00,177.10 Z"/>
<path d="M126.35,193.20 H132.85 M129.60,189.45 V196.95" fill="none" stroke="#000" stroke-width="1.10"/>
<path d="M144.20,177.50 L147.30,181.20 L144.20,184.90 L141.10,181.20 Z"/>
<path d="M151.50,159.10 L154.60,162.80 L151.50,166.50 L148.40,162.80 Z"/>
<polygon points="162.30,192.80 165.82,195.36 164.47,199.49 160.13,199.49 158.78,195.36"/>
<path d="M173.60,172.60 L176.70,176.30 L173.60,180.00 L170.50,176.30 Z"/>
<polygon points="177.80,158.75 178.65,161.65 181.08,161.79 179.18,163.72 179.83,166.71 177.80,165.00 175.77,166.71 176.42,163.72 174.52,161.79 176.95,161.65"/>
<rect x="183.00" y="195.50" width="6.00" height="7.00"/>
<polygon points="194.70,166.05 195.55,168.95 197.98,169.09 196.08,171.02 196.73,174.01 194.70,172.30 192.67,174.01 193.32,171.02 191.42,169.09 193.85,168.95"/>
<ellipse cx="213.00" cy="192.10" rx="3.20" ry="3.90"/>
<path d="M225.55,203.40 H232.05 M228.80,199.65 V207.15" fill="none" stroke="#000" stroke-width="1.10"/>
<path d="M254.45,202.60 H260.95 M257.70,198.85 V206.35" fill="none" stroke="#000" stroke-width="1.10"/>
<path d="M357.60,90.40 L364.20,90.40 L360.90,97.60 Z"/>
<path d="M384.10,87.90 L387.40,95.10 L380.80,95.10 Z"/>
<path d="M407.25,85.80 H413.75 M410.50,82.05 V89.55" fill="none" stroke="#000" stroke-width="1.10"/>
<path d="M422.60,87.80 L425.70,91.50 L422.60,95.20 L419.50,91.50 Z"/>
<path d="M432.50,44.80 L435.60,48.50 L432.50,52.20 L429.40,48.50 Z"/>
<polygon points="444.90,94.00 448.42,96.56 447.07,100.69 442.73,100.69 441.38,96.56"/>
<path d="M454.90,70.60 L458.00,74.30 L454.90,78.00 L451.80,74.30 Z"/>
<ellipse cx="494.30" cy="96.70" rx="3.20" ry="3.90"/>
<path d="M506.15,96.00 H512.65 M509.40,92.25 V99.75" fill="none" stroke="#000" stroke-width="1.10"/>
<path d="M534.75,94.90 H541.25 M538.00,91.15 V98.65" fill="none" stroke="#000" stroke-width="1.10"/>
<ellipse cx="307.60" cy="152.40" rx="3.20" ry="3.90"/>
<polygon points="334.10,183.15 334.95,186.05 337.38,186.19 335.48,188.12 336.13,191.11 334.10,189.40 332.07,191.11 332.72,188.12 330.82,186.19 333.25,186.05"/>
<path d="M358.40,188.10 L365.00,188.10 L361.70,195.30 Z"/>
<path d="M383.50,181.40 L386.80,188.60 L380.20,188.60 Z"/>
<path d="M407.15,194.60 H413.65 M410.40,190.85 V198.35" fill="none" stroke="#000" stroke-width="1.10"/>
<path d="M423.00,188.30 L426.10,192.00 L423.00,195.70 L419.90,192.00 Z"/>
<path d="M432.60,171.00 L435.70,174.70 L432.60,178.40 L429.50,174.70 Z"/>
<polygon points="443.00,185.10 446.52,187.66 445.17,191.79 440.83,191.79 439.48,187.66"/>
<path d="M454.60,173.40 L457.70,177.10 L454.60,180.80 L451.50,177.10 Z"/>
<polygon points="459.20,184.55 460.05,187.45 462.48,187.59 460.58,189.52 461.23,192.51 459.20,190.80 457.17,192.51 457.82,189.52 455.92,187.59 458.35,187.45"/>
<rect x="463.30" y="195.50" width="6.00" height="7.00"/>
<polygon points="475.30,193.95 476.15,196.85 478.58,196.99 476.68,198.92 477.33,201.91 475.30,200.20 473.27,201.91 473.92,198.92 472.02,196.99 474.45,196.85"/>
<ellipse cx="494.80" cy="194.80" rx="3.20" ry="3.90"/>
<path d="M506.55,201.00 H513.05 M509.80,197.25 V204.75" fill="none" stroke="#000" stroke-width="1.10"/>
<path d="M535.05,200.20 H541.55 M538.30,196.45 V203.95" fill="none" stroke="#000" stroke-width="1.10"/>
</g>
<rect x="554.7" y="0.7" width="129.5" height="263.1" fill="none" stroke="#3c3c3c" stroke-width="1.35"/>
<g fill="#000">
<path d="M560.80,18.70 H571.80 M566.30,12.70 V24.70" fill="none" stroke="#000" stroke-width="1.15"/>
<text transform="translate(580.4,16.4) scale(0.887,1)" font-size="10" fill="#000" font-family="Liberation Sans, sans-serif">Limestone</text>
<text transform="translate(580.4,29.3) scale(0.887,1)" font-size="10" fill="#000" font-family="Liberation Sans, sans-serif">(CaCO<tspan font-size="7" dy="2.2">3</tspan><tspan dy="-2.2">)</tspan></text>
<path d="M566.40,44.10 L571.50,50.40 L566.40,56.70 L561.30,50.40 Z"/>
<text transform="translate(580.4,47.5) scale(0.887,1)" font-size="10" fill="#000" font-family="Liberation Sans, sans-serif">Quartz</text>
<text transform="translate(580.4,60.2) scale(0.887,1)" font-size="10" fill="#000" font-family="Liberation Sans, sans-serif">(SiO<tspan font-size="7" dy="2.2">2</tspan><tspan dy="-2.2">)</tspan></text>
<path d="M566.50,76.70 L571.50,88.30 L561.50,88.30 Z"/>
<text transform="translate(580.4,80.0) scale(0.887,1)" font-size="10" fill="#000" font-family="Liberation Sans, sans-serif">Mullite</text>
<text transform="translate(580.4,93.2) scale(0.887,1)" font-size="10" fill="#000" font-family="Liberation Sans, sans-serif">(Al<tspan font-size="7" dy="2.2">6</tspan><tspan dy="-2.2">Si</tspan><tspan font-size="7" dy="2.2">2</tspan><tspan dy="-2.2">O</tspan><tspan font-size="7" dy="2.2">13</tspan><tspan dy="-2.2">)</tspan></text>
<ellipse cx="566.60" cy="115.30" rx="5.40" ry="6.30"/>
<text transform="translate(580.4,112.5) scale(0.887,1)" font-size="10" fill="#000" font-family="Liberation Sans, sans-serif">Gypsum</text>
<text transform="translate(580.4,125.7) scale(0.887,1)" font-size="10" fill="#000" font-family="Liberation Sans, sans-serif">(CaSO<tspan font-size="7" dy="2.2">4</tspan><tspan dy="-2.2">.2H</tspan><tspan font-size="7" dy="2.2">2</tspan><tspan dy="-2.2">O)</tspan></text>
<path d="M561.30,141.20 L571.30,141.20 L566.30,153.20 Z"/>
<text transform="translate(580.4,145.0) scale(0.887,1)" font-size="10" fill="#000" font-family="Liberation Sans, sans-serif">Portlandite</text>
<text transform="translate(580.4,158.2) scale(0.887,1)" font-size="10" fill="#000" font-family="Liberation Sans, sans-serif">(Ca(OH)<tspan font-size="7" dy="2.2">2</tspan><tspan dy="-2.2">)</tspan></text>
<polygon points="566.30,173.80 571.34,178.43 569.42,185.92 563.18,185.92 561.26,178.43"/>
<text transform="translate(580.4,176.2) scale(0.887,1)" font-size="10" fill="#000" font-family="Liberation Sans, sans-serif">Calcium Silicate Hydrate</text>
<text transform="translate(580.4,189.0) scale(0.887,1)" font-size="10" fill="#000" font-family="Liberation Sans, sans-serif">(CSH)</text>
<rect x="561.15" y="206.50" width="10.50" height="11.80"/>
<text transform="translate(580.4,210.0) scale(0.887,1)" font-size="10" fill="#000" font-family="Liberation Sans, sans-serif">Dolomite</text>
<text transform="translate(580.4,223.0) scale(0.887,1)" font-size="10" fill="#000" font-family="Liberation Sans, sans-serif">(CaMg(CO<tspan font-size="7" dy="2.2">3</tspan><tspan dy="-2.2">)</tspan><tspan font-size="7" dy="2.2">2</tspan><tspan dy="-2.2">)</tspan></text>
<polygon points="566.80,237.65 568.13,242.07 571.94,242.28 568.96,245.22 569.97,249.77 566.80,247.16 563.63,249.77 564.64,245.22 561.66,242.28 565.47,242.07"/>
<text transform="translate(580.4,240.4) scale(0.887,1)" font-size="10" fill="#000" font-family="Liberation Sans, sans-serif">Bassanite</text>
<text transform="translate(580.4,253.7) scale(0.887,1)" font-size="10" fill="#000" font-family="Liberation Sans, sans-serif">(CaSO<tspan font-size="7" dy="2.2">4</tspan><tspan dy="-2.2">.0.5H</tspan><tspan font-size="7" dy="2.2">2</tspan><tspan dy="-2.2">O)</tspan></text>
</g>
</svg></body></html>
